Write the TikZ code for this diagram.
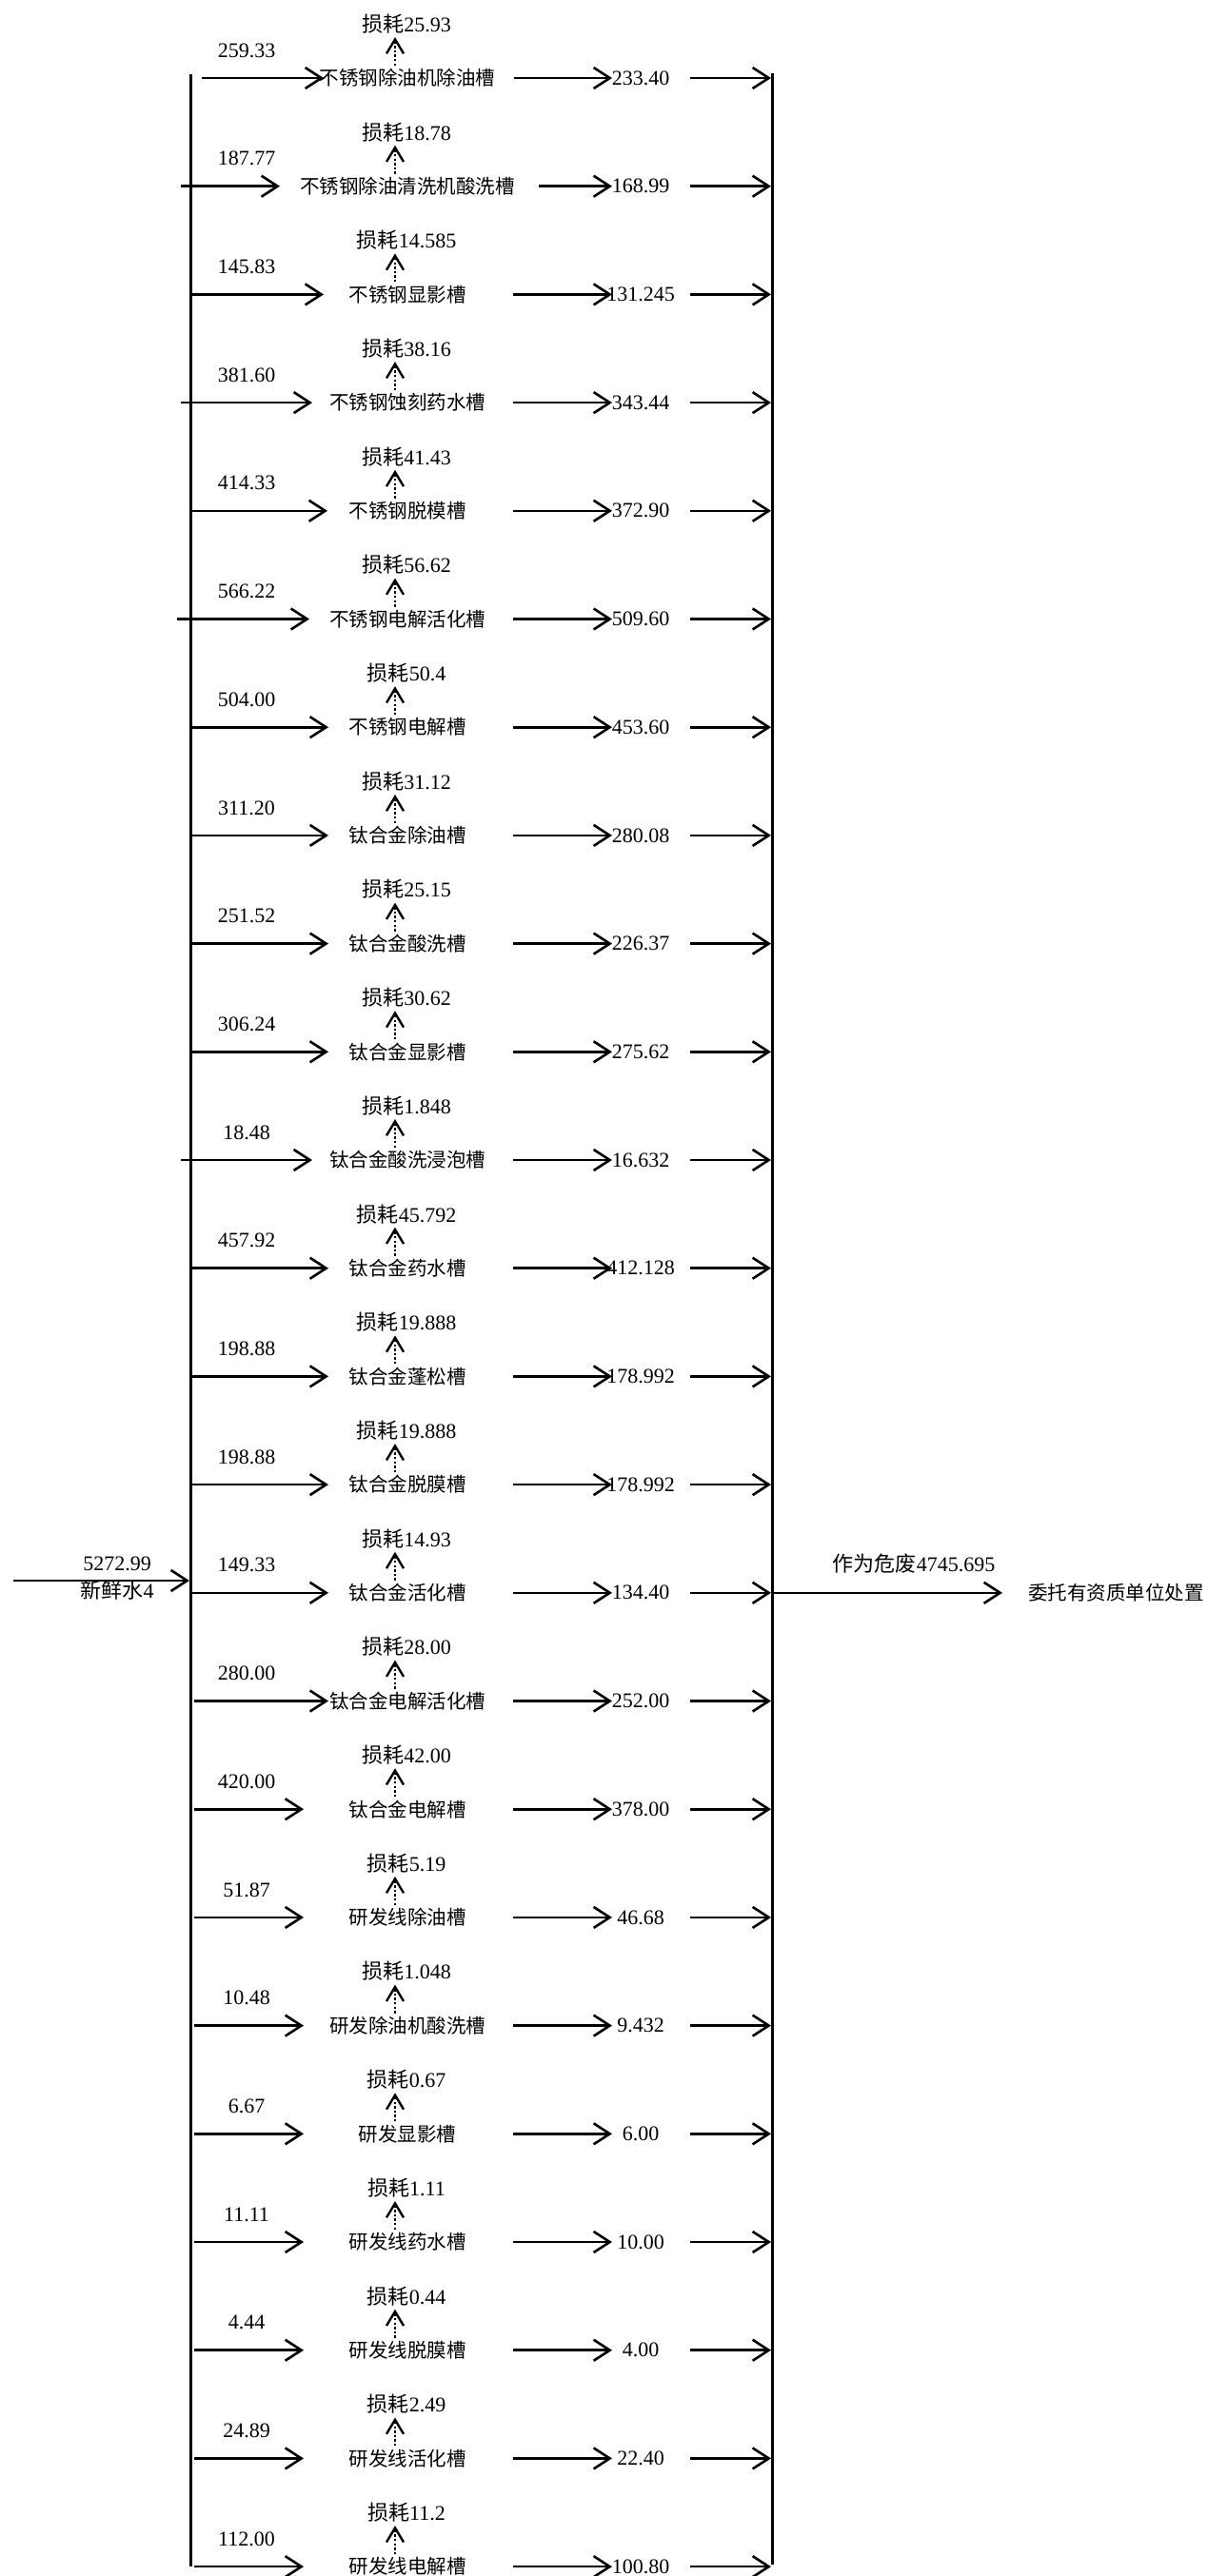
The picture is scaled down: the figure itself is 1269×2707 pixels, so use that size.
\documentclass[tikz,border=0pt]{standalone}
\usepackage{fontspec}
\setmainfont{Liberation Serif}
\newfontfamily\cjk{Noto Sans CJK SC}
\usetikzlibrary{arrows.meta}
\begin{document}
\begin{tikzpicture}[x=1pt,y=-1pt,
  flow/.style={line width=2.6pt, -{Straight Barb[length=17pt,width=22pt]}},
  lossarr/.style={line width=2.4pt, dash pattern=on 2.4pt off 2.2pt, -{Straight Barb[length=15pt,width=18pt,line width=2.4pt]}},
  bus/.style={line width=3pt},
  lbl/.style={inner sep=0pt, font=\fontsize{22}{26}\selectfont},
  tank/.style={inner sep=0pt, font=\cjk\fontsize{20.5}{25}\selectfont},
]
\useasboundingbox (0,0) rectangle (1269,2707);
% bus lines
\coordinate (Ltop) at (200,78);
\coordinate (Lbot) at (200,2697);
\coordinate (Rtop) at (811,77);
\coordinate (Rbot) at (811,2695);
\draw[bus] (Ltop) -- (Lbot);
\draw[bus] (Rtop) -- (Rbot);
\foreach \i/\inv/\tk/\loss/\outv/\xs/\xe/\os in {
1/259.33/不锈钢除油机除油槽/25.93/233.40/212/340/540,
2/187.77/不锈钢除油清洗机酸洗槽/18.78/168.99/190/294/566,
3/145.83/不锈钢显影槽/14.585/131.245/202/340/539,
4/381.60/不锈钢蚀刻药水槽/38.16/343.44/190/328/539,
5/414.33/不锈钢脱模槽/41.43/372.90/202/344/539,
6/566.22/不锈钢电解活化槽/56.62/509.60/186/325/539,
7/504.00/不锈钢电解槽/50.4/453.60/202/345/539,
8/311.20/钛合金除油槽/31.12/280.08/202/345/539,
9/251.52/钛合金酸洗槽/25.15/226.37/202/345/539,
10/306.24/钛合金显影槽/30.62/275.62/202/345/539,
11/18.48/钛合金酸洗浸泡槽/1.848/16.632/190/328/539,
12/457.92/钛合金药水槽/45.792/412.128/202/345/539,
13/198.88/钛合金蓬松槽/19.888/178.992/202/345/539,
14/198.88/钛合金脱膜槽/19.888/178.992/202/345/539,
15/149.33/钛合金活化槽/14.93/134.40/202/345/539,
16/280.00/钛合金电解活化槽/28.00/252.00/204/345/539,
17/420.00/钛合金电解槽/42.00/378.00/204/319/539,
18/51.87/研发线除油槽/5.19/46.68/204/319/539,
19/10.48/研发除油机酸洗槽/1.048/9.432/204/319/539,
20/6.67/研发显影槽/0.67/6.00/204/319/539,
21/11.11/研发线药水槽/1.11/10.00/204/319/539,
22/4.44/研发线脱膜槽/0.44/4.00/204/319/539,
23/24.89/研发线活化槽/2.49/22.40/204/319/539,
24/112.00/研发线电解槽/11.2/100.80/204/319/539}{
  \pgfmathsetmacro\y{82+113.7*(\i-1)}
  \node[tank] (t\i) at (428,\y) {\tk};
  \node[lbl] (iv\i) at (259,\y-29) {\inv};
  \node[lbl] (ls\i) at (427,\y-57) {{\cjk 损耗}\loss};
  \node[lbl] (ov\i) at (673,\y) {\outv};
  \coordinate (is\i) at (\xs,\y);
  \coordinate (ie\i) at (\xe,\y);
  \draw[flow] (is\i) -- (ie\i);
  \coordinate (ds\i) at (415,\y-13);
  \coordinate (de\i) at (415,\y-43);
  \draw[lossarr] (ds\i) -- (de\i);
  \coordinate (os\i) at (\os,\y);
  \coordinate (oe\i) at (643,\y);
  \draw[flow] (os\i) -- (oe\i);
  \coordinate (rs\i) at (725,\y);
  \coordinate (re\i) at (810,\y);
  \draw[flow] (rs\i) -- (re\i);
}
% fresh water input
\coordinate (src) at (14,1661);
\coordinate (Lin) at (199,1661);
\draw[flow] (src) -- (Lin);
\node[lbl] (fw) at (123,1643) {5272.99};
\node[lbl] (fwn) at (123,1671) {{\cjk 新鲜水}4};
% hazardous waste output
\coordinate (Rout) at (812,1673.8);
\coordinate (Rend) at (1053,1673.8);
\draw[flow] (Rout) -- (Rend);
\node[lbl] (haz) at (960,1643) {{\cjk 作为危废}4745.695};
\node[tank, anchor=west] (disp) at (1080,1673.8) {委托有资质单位处置};
\end{tikzpicture}
\end{document}
